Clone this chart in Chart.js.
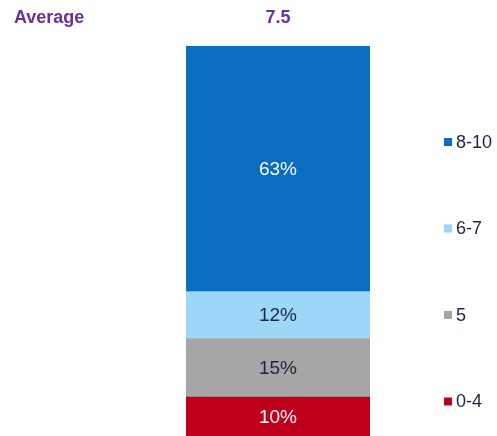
<!DOCTYPE html>
<html>
<head>
<meta charset="utf-8">
<script src="https://cdn.jsdelivr.net/npm/chart.js@4/dist/chart.umd.min.js"></script>
<style>
  body { margin: 0; background: #fff; }
  canvas { display: block; }
</style>
</head>
<body>
<canvas id="scoreChart" width="497" height="436"></canvas>
<script>
// Score groups, bottom of the stack first
var groups = ['0-4', '5', '6-7', '8-10'];
var shares = [10, 15, 12, 63];
var groupColors = ['#c0001a', '#a6a6a6', '#9dd7f8', '#0a6ec0'];
var labelColors = ['#ffffff', '#1c2541', '#1c2541', '#ffffff'];
var categories = ['Score'];
var averageLabel = 'Average';
var averageValue = '7.5';

var datasets = groups.map(function(g, i) {
    return {
        label: g,
        data: [shares[i]],
        backgroundColor: groupColors[i],
        borderWidth: 0,
        barPercentage: 1,
        categoryPercentage: 1
    };
});

// Percent labels in the middle of each segment
var segmentLabels = {
    id: 'segmentLabels',
    afterDatasetsDraw: function(chart) {
        var ctx = chart.ctx;
        ctx.save();
        ctx.font = '19px "Liberation Sans", Arial, sans-serif';
        ctx.textAlign = 'center';
        ctx.textBaseline = 'middle';
        chart.data.datasets.forEach(function(ds, i) {
            var bar = chart.getDatasetMeta(i).data[0];
            ctx.fillStyle = labelColors[i];
            ctx.fillText(ds.data[0] + '%', bar.x, (bar.y + bar.base) / 2 + 1);
        });
        ctx.restore();
    }
};

// Average header and the legend on the right side
var sideText = {
    id: 'sideText',
    afterDraw: function(chart) {
        var ctx = chart.ctx;
        var area = chart.chartArea;
        ctx.save();
        ctx.fillStyle = '#6b2fa0';
        ctx.font = 'bold 18px "Liberation Sans", Arial, sans-serif';
        ctx.textBaseline = 'middle';
        ctx.textAlign = 'left';
        ctx.fillText(averageLabel, 14, 18);
        ctx.textAlign = 'center';
        ctx.fillText(averageValue, (area.left + area.right) / 2, 18);

        ctx.font = '18px "Liberation Sans", Arial, sans-serif';
        ctx.textAlign = 'left';
        var n = groups.length;
        for (var k = 0; k < n; k++) {
            var i = n - 1 - k;
            var y = 142 + k * 86.5;
            ctx.fillStyle = groupColors[i];
            ctx.fillRect(444, y - 4, 8, 8);
            ctx.fillStyle = '#1c2541';
            ctx.fillText(groups[i], 456, y + 1);
        }
        ctx.restore();
    }
};

var chart = new Chart(document.getElementById('scoreChart'), {
    type: 'bar',
    data: {
        labels: categories,
        datasets: datasets
    },
    options: {
        responsive: false,
        animation: false,
        devicePixelRatio: 1,
        layout: {
            padding: { left: 186, right: 127, top: 46, bottom: 0 }
        },
        plugins: {
            legend: { display: false },
            tooltip: { enabled: false }
        },
        scales: {
            x: { stacked: true, display: false },
            y: { stacked: true, display: false, min: 0, max: 100 }
        }
    },
    plugins: [segmentLabels, sideText]
});
</script>
</body>
</html>
